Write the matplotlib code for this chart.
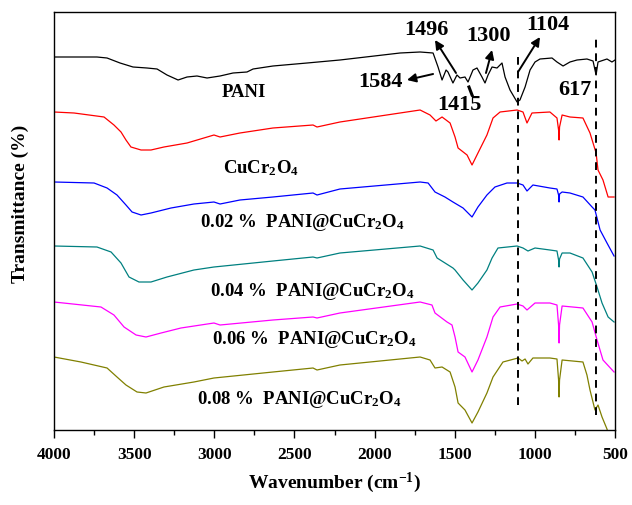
import matplotlib
matplotlib.use("Agg")
import matplotlib.pyplot as plt
from matplotlib.ticker import MultipleLocator

plt.rcParams['font.family'] = ['Liberation Serif', 'DejaVu Serif']
plt.rcParams['font.weight'] = 'bold'
plt.rcParams['mathtext.fontset'] = 'custom'
plt.rcParams['mathtext.rm'] = 'Liberation Serif:bold'
plt.rcParams['mathtext.it'] = 'Liberation Serif:bold'
plt.rcParams['mathtext.bf'] = 'Liberation Serif:bold'

# ---------------- data: (wavenumber cm-1, transmittance in offset a.u.) ----------------
pani = [(4000, 373), (3819, 373), (3732, 373), (3669, 372), (3588, 367), (3507, 363), (3420, 362),
        (3357, 361), (3295, 355), (3226, 350), (3170, 353), (3108, 354), (3045, 352), (2964, 354),
        (2883, 357), (2796, 358), (2758, 361), (2634, 364), (2421, 367), (2216, 370), (1841, 377),
        (1716, 378), (1635, 377), (1604, 363), (1579, 350), (1554, 360), (1542, 358), (1511, 347),
        (1486, 355), (1467, 352), (1436, 353), (1417, 348), (1386, 360), (1361, 362), (1330, 353),
        (1311, 347), (1292, 355), (1267, 363), (1236, 362), (1205, 367), (1186, 353), (1155, 340),
        (1111, 328), (1093, 330), (1061, 343), (1030, 360), (999, 368), (968, 371), (893, 372),
        (862, 368), (824, 364), (781, 368), (737, 370), (675, 371), (637, 369), (618, 355),
        (606, 368), (550, 371), (519, 368), (500, 370)]

cucr2o4 = [(4000, 318), (3875, 317), (3688, 313), (3626, 305), (3582, 298), (3551, 290), (3520, 283),
           (3457, 280), (3395, 280), (3314, 283), (3170, 287), (3002, 295), (2964, 293), (2840, 297),
           (2634, 302), (2384, 305), (2359, 303), (2216, 308), (1716, 320), (1654, 315), (1617, 309),
           (1579, 313), (1529, 307), (1498, 293), (1479, 282), (1423, 275), (1392, 265), (1355, 277),
           (1299, 295), (1261, 312), (1217, 318), (1111, 320), (1074, 318), (1049, 307), (1018, 317),
           (906, 318), (862, 312), (852, 300), (849, 290), (846, 303), (830, 315), (781, 313),
           (700, 312), (656, 297), (618, 277), (606, 260), (575, 250), (543, 233), (506, 233)]

pani_002 = [(4000, 248), (3750, 247), (3669, 242), (3607, 235), (3551, 225), (3513, 218), (3457, 215),
            (3395, 217), (3270, 222), (3127, 226), (3002, 228), (2964, 226), (2840, 230), (2634, 233),
            (2384, 237), (2359, 235), (2216, 241), (1716, 248), (1666, 247), (1623, 238), (1561, 233),
            (1511, 228), (1448, 222), (1392, 213), (1355, 223), (1299, 235), (1249, 243), (1174, 247),
            (1111, 247), (1074, 245), (1049, 239), (1012, 245), (906, 242), (862, 241), (852, 235),
            (849, 228), (846, 236), (830, 238), (781, 237), (700, 233), (643, 223), (625, 220),
            (593, 200), (550, 187), (506, 174)]

pani_004 = [(4000, 184), (3732, 183), (3644, 178), (3582, 167), (3532, 153), (3470, 148), (3395, 148),
            (3295, 153), (3127, 160), (3002, 163), (2634, 169), (2384, 173), (2359, 172), (2216, 177),
            (1716, 184), (1635, 180), (1610, 172), (1511, 162), (1498, 160), (1448, 150), (1392, 140),
            (1355, 147), (1299, 160), (1267, 172), (1230, 182), (1111, 184), (1074, 182), (1043, 179),
            (999, 182), (906, 180), (862, 179), (852, 170), (849, 163), (846, 171), (830, 177),
            (781, 177), (700, 172), (643, 158), (612, 143), (581, 127), (543, 113), (506, 108)]

pani_006 = [(4000, 128), (3707, 123), (3626, 115), (3563, 103), (3488, 95), (3426, 93), (3332, 97),
            (3208, 102), (3002, 107), (2964, 105), (2634, 110), (2384, 113), (2359, 112), (2216, 117),
            (1716, 128), (1642, 125), (1623, 117), (1548, 108), (1517, 105), (1498, 93), (1479, 78),
            (1436, 73), (1392, 58), (1355, 70), (1299, 93), (1261, 113), (1217, 123), (1111, 126),
            (1074, 124), (1049, 120), (999, 127), (906, 127), (862, 125), (852, 105), (849, 87),
            (846, 105), (830, 124), (700, 122), (643, 108), (612, 90), (575, 70), (506, 58)]

pani_008 = [(4000, 73), (3832, 68), (3669, 62), (3607, 53), (3551, 45), (3482, 38), (3426, 37),
            (3314, 43), (3127, 48), (3002, 52), (2634, 58), (2384, 62), (2359, 60), (2216, 65),
            (1716, 73), (1654, 70), (1623, 62), (1579, 63), (1529, 58), (1498, 43), (1479, 27),
            (1436, 20), (1392, 7), (1355, 18), (1299, 37), (1261, 53), (1199, 68), (1105, 72),
            (1080, 69), (1061, 71), (1043, 66), (1012, 72), (906, 72), (862, 71), (852, 50),
            (849, 33), (846, 50), (830, 70), (700, 68), (675, 55), (656, 40), (625, 20), (606, 25),
            (581, 13), (550, 1), (500, -30)]

series = [pani, cucr2o4, pani_002, pani_004, pani_006, pani_008]
series_colors = ['#000000', '#ff0000', '#0000ff', '#008080', '#ff00ff', '#808000']

labels = ['PANI', 'CuCr$_2$O$_4$', '0.02 %  PANI@CuCr$_2$O$_4$', '0.04 %  PANI@CuCr$_2$O$_4$',
          '0.06 %  PANI@CuCr$_2$O$_4$', '0.08 %  PANI@CuCr$_2$O$_4$']
label_wn = [2952, 2946, 3089, 3027, 3014, 3108]
label_t = [333, 257, 203, 134, 86, 26]

dash_wn = [1104, 617]
dash_top = [373, 392]
dash_bot = [25, 15]

# peak annotations: text, text position, arrow tail, arrow head
peak_text = ['1496', '1300', '1104', '1584', '617']
peak_text_pos = [(1679, 400), (1292, 394), (918, 405), (1966, 348), (749, 340)]
peak_tail = [(1492, 357), (1305, 357), (1105, 358), (1635, 356), None]
peak_head = [(1623, 390), (1267, 380), (968, 393), (1798, 350), None]

# ---------------- figure ----------------
fig = plt.figure(figsize=(6.32, 5.05), dpi=100)
ax = fig.add_axes([54/632, 75/505, 561/632, 418/505])

for s, c in zip(series, series_colors):
    wn = [p[0] for p in s]
    t = [p[1] for p in s]
    ax.plot(wn, t, color=c, lw=0.9)

for w, yt, yb in zip(dash_wn, dash_top, dash_bot):
    ax.plot([w, w], [yb, yt], color='black', lw=1.4, ls=(0, (4, 3)))

for lab, x, y in zip(labels, label_wn, label_t):
    ax.text(x, y, lab, fontsize=13.5, fontweight='bold', ha='left', va='baseline')

for txt, pos, tail, head in zip(peak_text, peak_text_pos, peak_tail, peak_head):
    ax.text(pos[0], pos[1], txt, fontsize=16, fontweight='bold', ha='center', va='center')
    if tail is not None:
        ax.annotate('', xy=head, xytext=tail,
                    arrowprops=dict(arrowstyle='-|>', color='black', lw=1.4,
                                    mutation_scale=13, shrinkA=0, shrinkB=0))

ax.text(1473, 325, '1415', fontsize=16, fontweight='bold', ha='center', va='center')
ax.plot([1411, 1392], [343, 335], color='black', lw=2.2)

ax.set_xlim(4000, 500)
ax.set_ylim(0, 418)
ax.xaxis.set_major_locator(MultipleLocator(500))
ax.xaxis.set_minor_locator(MultipleLocator(250))
ax.set_yticks([])
ax.tick_params(axis='x', which='major', direction='out', length=6, width=1.0,
               labelsize=12.5, pad=6)
ax.tick_params(axis='x', which='minor', direction='out', length=3.5, width=1.0)
for lab in ax.get_xticklabels():
    lab.set_fontweight('bold')
for sp in ax.spines.values():
    sp.set_linewidth(1.0)

ax.set_xlabel('Wavenumber (cm$^{-1}$)', fontsize=14, fontweight='bold', labelpad=6)
fig.text(20/632, 1 - 204/505, 'Transmittance (%)', fontsize=14, fontweight='bold',
         rotation=90, ha='center', va='center')

fig.savefig('out.png', dpi=100)
